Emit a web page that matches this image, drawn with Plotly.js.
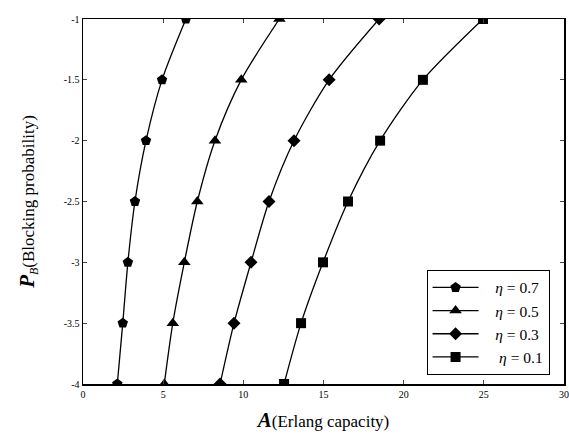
<!DOCTYPE html>
<html>
<head>
<meta charset="utf-8">
<script src="https://cdn.plot.ly/plotly-3.0.1.min.js"></script>
<style>html,body{margin:0;padding:0;background:#fff;}#chart{width:569px;height:439px;}</style>
</head>
<body>
<div id="chart"></div>
<script>
const logPB = [-1, -1.5, -2, -2.5, -3, -3.5, -4];
const capEta07 = [6.42, 4.93, 3.93, 3.24, 2.80, 2.48, 2.14];
const capEta05 = [12.25, 9.87, 8.23, 7.13, 6.32, 5.60, 5.07];
const capEta03 = [18.47, 15.35, 13.16, 11.60, 10.48, 9.42, 8.55];
const capEta01 = [24.95, 21.20, 18.53, 16.53, 14.97, 13.60, 12.54];
const seriesNames = ['&nbsp;&nbsp;&nbsp;<i>η</i> = 0.7', '&nbsp;&nbsp;&nbsp;<i>η</i> = 0.5', '&nbsp;&nbsp;&nbsp;<i>η</i> = 0.3', '&nbsp;&nbsp;&nbsp;&nbsp;<i>η</i> = 0.1'];
const xTicks = [0, 5, 10, 15, 20, 25, 30];
const yTicks = [-1, -1.5, -2, -2.5, -3, -3.5, -4];

const symbols = ['pentagon', 'triangle-up', 'diamond', 'square'];
const sizes = [11, 11, 10, 10];
const caps = [capEta07, capEta05, capEta03, capEta01];

const traces = caps.map((c, i) => ({
  x: c, y: logPB, type: 'scatter', mode: 'lines+markers',
  name: seriesNames[i],
  line: {color: '#000', width: 1.3, shape: 'spline', smoothing: 0.8},
  marker: {symbol: symbols[i], size: sizes[i], color: '#000'}
}));

const layout = {
  width: 569, height: 439,
  margin: {l: 83, r: 5, t: 19, b: 55},
  paper_bgcolor: '#fff', plot_bgcolor: '#fff',
  font: {family: '"Liberation Serif", "Times New Roman", serif', color: '#000'},
  showlegend: true,
  legend: {
    x: 0.97, y: 0.025, xanchor: 'right', yanchor: 'bottom',
    bgcolor: '#fff', bordercolor: '#000', borderwidth: 1,
    font: {size: 15.5, family: '"Liberation Serif", serif'},
    tracegroupgap: 0, itemwidth: 46
  },
  xaxis: {
    range: [0, 30], tickvals: xTicks, ticktext: xTicks.map(String),
    ticks: 'inside', ticklen: 4, showline: true, linecolor: '#000', linewidth: 1.5,
    mirror: 'ticks', showgrid: false, zeroline: false,
    tickfont: {size: 10},
    title: {text: '<b><i><span style="font-size:21px">A</span></i></b>(Erlang capacity)', font: {size: 17}, standoff: 16}
  },
  yaxis: {
    range: [-4, -1], tickvals: yTicks, ticktext: yTicks.map(String),
    ticks: 'inside', ticklen: 4, showline: true, linecolor: '#000', linewidth: 1.5,
    mirror: 'ticks', showgrid: false, zeroline: false,
    tickfont: {size: 10},
    title: {text: '<b><i><span style="font-size:21px">P</span></i></b><sub><i>B</i></sub>(Blocking probability)', font: {size: 17}, standoff: 24}
  }
};

Plotly.newPlot('chart', traces, layout, {displayModeBar: false, staticPlot: true});
</script>
</body>
</html>
